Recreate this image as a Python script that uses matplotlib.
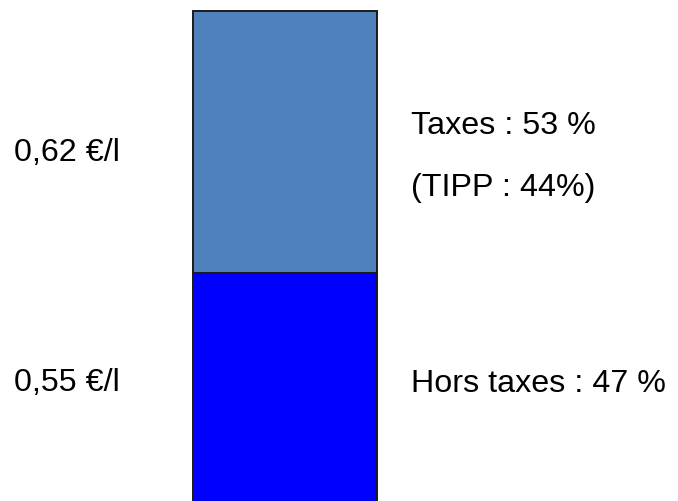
import matplotlib
matplotlib.use("Agg")
import matplotlib.pyplot as plt

plt.rcParams['font.family'] = ['Liberation Sans', 'DejaVu Sans']

# price per litre split: hors taxes (bottom), taxes (top)
parts = ['Hors taxes', 'Taxes']
prices = [0.55, 0.62]
price_labels = ['0,55 €/l', '0,62 €/l']
right_labels = ['Hors taxes : 47 %', 'Taxes : 53 %']
tipp_label = '(TIPP : 44%)'
colors = ['#0000FF', '#4F81BD']

W, H = 678, 502
fig = plt.figure(figsize=(W / 100, H / 100), dpi=100)
ax = fig.add_axes([0, 0, 1, 1])
ax.set_xlim(0, W)
ax.set_ylim(0.01, 1.1985)  # bar base sits just below the image edge
ax.axis('off')

bottom = 0
for val, col in zip(prices, colors):
    ax.bar(285, val, width=184, bottom=bottom, color=col,
           edgecolor='#1a1a1a', linewidth=1.4)
    bottom += val

fs = 23.2
# left price labels
fig.text(14 / W, 1 - 383 / H, price_labels[0], fontsize=fs, va='center', ha='left')
fig.text(14 / W, 1 - 153 / H, price_labels[1], fontsize=fs, va='center', ha='left')
# right share labels
fig.text(411 / W, 1 - 384 / H, right_labels[0], fontsize=fs, va='center', ha='left')
fig.text(411 / W, 1 - 126 / H, right_labels[1], fontsize=fs, va='center', ha='left')
fig.text(411 / W, 1 - 188 / H, tipp_label, fontsize=fs, va='center', ha='left')

fig.savefig('out.png', dpi=100)
